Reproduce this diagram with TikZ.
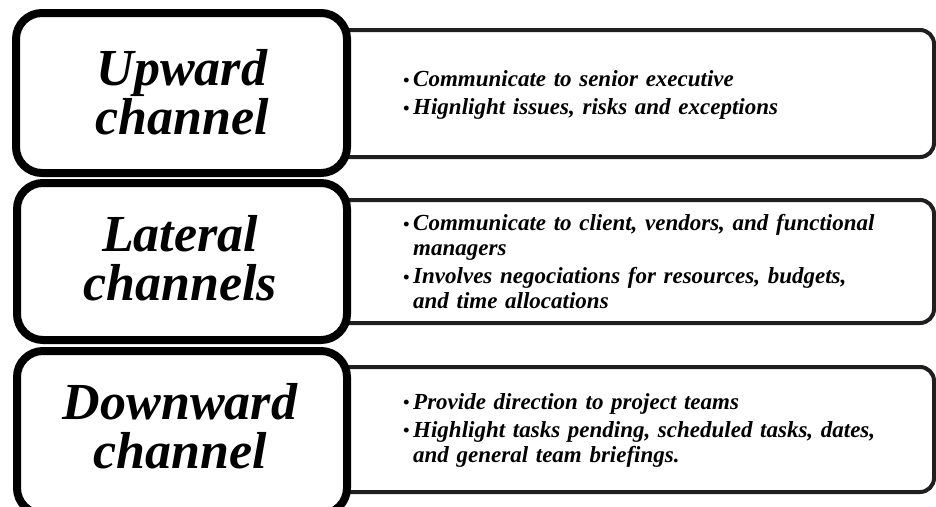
\documentclass[tikz,border=0pt]{standalone}
\usepackage{fontspec}
\setmainfont{Liberation Serif}
\newcommand{\bitem}[1]{\hangindent=10pt\hangafter=1\noindent\makebox[10pt][l]{\fontsize{18}{18}\selectfont\raisebox{0.5pt}{•}}#1\par}
\tikzset{
  leftbox/.style={draw=black, line width=8pt, rounded corners=26pt, fill=white},
  rightbox/.style={draw=black!88, line width=4pt, rounded corners=14pt, fill=white},
  bigtxt/.style={font=\fontsize{52}{49}\selectfont\bfseries\itshape, align=center, inner sep=0pt},
  smalltxt/.style={font=\fontsize{23}{25}\selectfont\bfseries\itshape, text width=500pt, align=left, inner sep=0pt, anchor=west}
}
\begin{document}
\begin{tikzpicture}[x=1pt,y=-1pt]
\useasboundingbox (0,0) rectangle (936,506);
\clip (0,0) rectangle (936,506);
% right boxes
\draw[rightbox] (330,30) rectangle (934,157);
\draw[rightbox] (330,200) rectangle (934,323);
\draw[rightbox] (330,367) rectangle (934,492);
% left boxes
\draw[leftbox] (16,13) rectangle (347,173);
\draw[leftbox] (17,183) rectangle (347,340);
\draw[leftbox] (17,351) rectangle (347,514);
% left labels
\node[bigtxt] (up) at (182,92) {Upward\\channel};
\node[bigtxt] (lat) at (180,258) {Lateral\\channels};
\node[bigtxt] (down) at (180,426) {Downward\\channel};
% right texts
\node[smalltxt] (t1) at (403,95) {\setlength{\parskip}{3pt}%
\bitem{Communicate to senior executive}
\bitem{Hignlight issues, risks and exceptions}};
\node[smalltxt] (t2) at (403,262) {\setlength{\parskip}{3pt}%
\bitem{Communicate to client, vendors, and functional\newline managers}
\bitem{Involves negociations for resources, budgets,\newline and time allocations}};
\node[smalltxt] (t3) at (403,430) {\setlength{\parskip}{3pt}%
\bitem{Provide direction to project teams}
\bitem{Highlight tasks pending, scheduled tasks, dates,\newline and general team briefings.}};
\end{tikzpicture}
\end{document}
